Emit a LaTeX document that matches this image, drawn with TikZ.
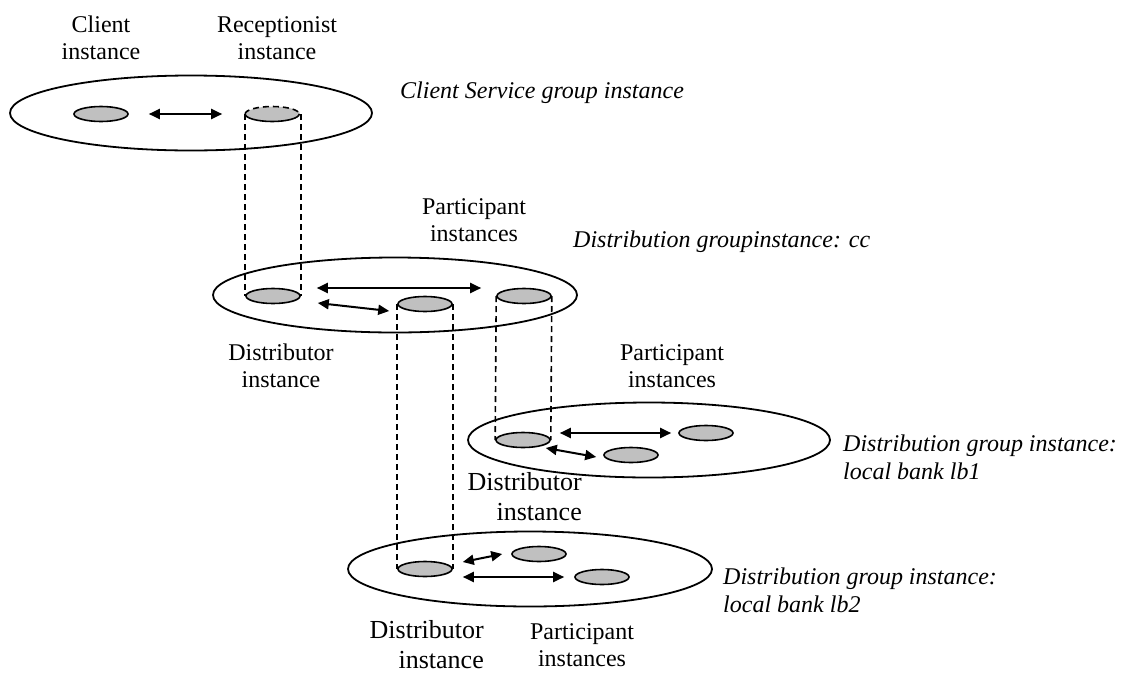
\documentclass[tikz,border=0pt]{standalone}
\usepackage{fontspec}
\setmainfont{Liberation Serif}
\usetikzlibrary{shapes.geometric,arrows.meta}
\definecolor{inst}{HTML}{C0C0C0}
\begin{document}
\begin{tikzpicture}[x=1pt,y=-1pt,
  grp/.style={ellipse,draw,line width=1.8pt,minimum width=362pt,minimum height=75pt,inner sep=0pt},
  ins/.style={ellipse,draw,line width=1.6pt,fill=inst,minimum width=54pt,minimum height=15pt,inner sep=0pt},
  arr/.style={line width=2pt,{Triangle[length=11pt,width=10pt]}-{Triangle[length=11pt,width=10pt]}},
  cyl/.style={dashed,line width=1.6pt,dash pattern=on 6pt off 4pt},
  lbl/.style={align=center,inner sep=0pt,font=\fontsize{24}{27}\selectfont},
  lblr/.style={align=right,inner sep=0pt,font=\fontsize{26}{30}\selectfont},
  grpcaption/.style={align=left,anchor=west,inner sep=0pt,font=\fontsize{24}{28}\selectfont\itshape}]
\useasboundingbox (0,0) rectangle (1133,675);
% group ellipses
\node[grp] (g1) at (191,113) {};
\node[grp,minimum width=364pt] (g2) at (395,295) {};
\node[grp] (g3) at (649,440) {};
\node[grp,minimum width=364pt] (g4) at (530,569) {};
% instances
\node[ins] (c) at (101,114) {};
\node[ins,draw=none] (r) at (273,114) {};
\draw[line width=1.6pt] (r.west) arc[start angle=180,end angle=360,x radius=27pt,y radius=7.5pt];
\draw[cyl] (r.west) arc[start angle=180,end angle=0,x radius=27pt,y radius=7.5pt];
\node[ins] (d1) at (273,296) {};
\node[ins] (p2) at (425,304) {};
\node[ins] (p1) at (524,296) {};
\node[ins] (d2) at (523,440) {};
\node[ins] (p3) at (706,433) {};
\node[ins] (p4) at (631,455) {};
\node[ins] (d3) at (425,569) {};
\node[ins] (p5) at (539,554) {};
\node[ins] (p6) at (602,577) {};
% cylinders
\draw[cyl] (r.west) -- (d1.west);
\draw[cyl] (r.east) -- (d1.east);
\draw[cyl] (p2.west) -- (d3.west);
\draw[cyl] (p2.east) -- (d3.east);
\draw[cyl] (p1.west) -- (d2.west);
\draw[cyl] (p1.east) -- (d2.east);
% arrows
\draw[arr] ([shift={(20,0)}]c.east) -- ([shift={(-23,0)}]r.west);
\draw[arr] ([shift={(16,-8)}]d1.east) -- ([shift={(-15,-8)}]p1.west);
\draw[arr] ([shift={(17,7)}]d1.east) -- ([shift={(-8,7)}]p2.west);
\draw[arr] ([shift={(9,-7)}]d2.east) -- ([shift={(-7,0)}]p3.west);
\draw[arr] ([shift={(-5,8)}]d2.east) -- ([shift={(-7,2)}]p4.west);
\draw[arr] ([shift={(10,-7)}]d3.east) -- ([shift={(-9,0)}]p5.west);
\draw[arr] ([shift={(10,8)}]d3.east) -- ([shift={(-10,0)}]p6.west);
% labels
\node[lbl] (lc) at (101,38) {Client\\instance};
\node[lbl] (lr) at (277,38) {Receptionist\\instance};
\node[grpcaption] (t1) at (400,93) {Client Service group instance};
\node[lbl] (lp1) at (474,220) {Participant\\instances};
\node[grpcaption] (t2) at (573,242) {Distribution groupinstance: cc};
\node[lbl] (ld1) at (281,366) {Distributor\\instance};
\node[lbl] (lp2) at (672,366) {Participant\\instances};
\node[grpcaption] (t3) at (843,457) {Distribution group instance:\\local bank lb1};
\node[lblr,anchor=east] (ld2) at (582,497) {Distributor\\instance};
\node[grpcaption] (t4) at (723,590) {Distribution group instance:\\local bank lb2};
\node[lblr,anchor=east] (ld3) at (484,645) {Distributor\\instance};
\node[lbl] (lp3) at (582,645) {Participant\\instances};
\end{tikzpicture}
\end{document}
